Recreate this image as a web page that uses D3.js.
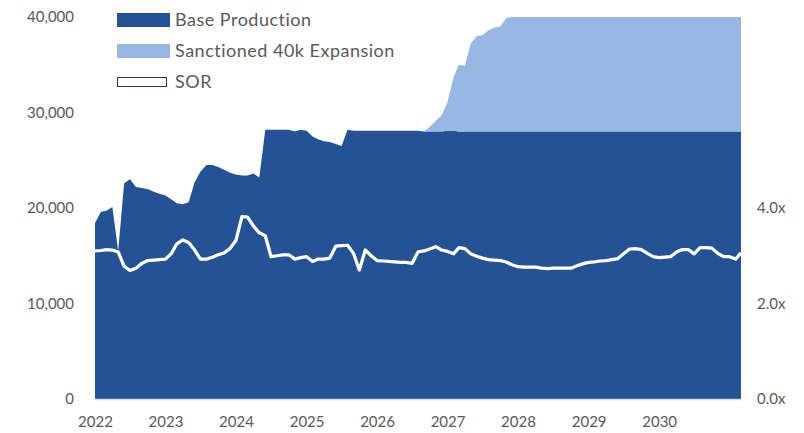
<!DOCTYPE html>
<html>
<head>
<meta charset="utf-8">
<script src="https://cdn.jsdelivr.net/npm/d3@7"></script>
<style>
  body { margin: 0; background: #fff; }
  text { font-family: Lato, "Open Sans", sans-serif; fill: #595959; }
</style>
</head>
<body>
<div id="chart"></div>
<script>
const width = 804;
const height = 433;

// monthly points, Jan 2022 .. Mar 2031
const months = d3.timeMonth.range(new Date(2022, 0, 1), new Date(2031, 3, 1));

const baseProduction = [
  18400, 19600, 19700, 20100, 15500, 22600, 23000, 22200, 22100, 22000, 21700, 21500,
  21300, 20900, 20500, 20400, 20600, 22700, 23800, 24500, 24500, 24300, 24000, 23700,
  23500, 23400, 23400, 23600, 23200, 28200, 28200, 28200, 28200, 28200, 28000, 28200,
  28100, 27500, 27200, 27000, 26900, 26700, 26500, 28200, 28100, 28100, 28100, 28100,
  28100, 28100, 28100, 28100, 28100, 28100, 28100, 28100, 28000, 28000, 28000, 28000,
  28100, 28100, 28000, 28000, 28000, 28000, 28000, 28000, 28000, 28000, 28000, 28000,
  28000, 28000, 28000, 28000, 28000, 28000, 28000, 28000, 28000, 28000, 28000, 28000,
  28000, 28000, 28000, 28000, 28000, 28000, 28000, 28000, 28000, 28000, 28000, 28000,
  28000, 28000, 28000, 28000, 28000, 28000, 28000, 28000, 28000, 28000, 28000, 28000,
  28000, 28000, 28000
];

const sanctionedExpansion = [
  0, 0, 0, 0, 0, 0, 0, 0, 0, 0, 0, 0,
  0, 0, 0, 0, 0, 0, 0, 0, 0, 0, 0, 0,
  0, 0, 0, 0, 0, 0, 0, 0, 0, 0, 0, 0,
  0, 0, 0, 0, 0, 0, 0, 0, 0, 0, 0, 0,
  0, 0, 0, 0, 0, 0, 0, 0, 0, 500, 1100, 1700,
  3000, 5600, 7000, 6900, 9200, 10000, 10100, 10600, 10900, 11000, 11900, 12000,
  12000, 12000, 12000, 12000, 12000, 12000, 12000, 12000, 12000, 12000, 12000, 12000,
  12000, 12000, 12000, 12000, 12000, 12000, 12000, 12000, 12000, 12000, 12000, 12000,
  12000, 12000, 12000, 12000, 12000, 12000, 12000, 12000, 12000, 12000, 12000, 12000,
  12000, 12000, 12000
];

const sor = [
  3.10, 3.11, 3.13, 3.12, 3.08, 2.78, 2.69, 2.74, 2.84, 2.90, 2.91, 2.92,
  2.93, 3.05, 3.25, 3.33, 3.28, 3.12, 2.93, 2.93, 2.97, 3.02, 3.06, 3.15,
  3.32, 3.82, 3.81, 3.62, 3.48, 3.42, 2.98, 3.00, 3.02, 3.02, 2.93, 2.96,
  2.98, 2.88, 2.93, 2.93, 2.95, 3.20, 3.21, 3.22, 3.05, 2.70, 3.12, 3.00,
  2.90, 2.89, 2.88, 2.87, 2.86, 2.86, 2.84, 3.08, 3.10, 3.14, 3.19, 3.12,
  3.09, 3.04, 3.17, 3.15, 3.04, 2.99, 2.95, 2.92, 2.91, 2.90, 2.87, 2.81,
  2.77, 2.76, 2.76, 2.76, 2.74, 2.73, 2.74, 2.74, 2.74, 2.74, 2.79, 2.83,
  2.86, 2.87, 2.89, 2.90, 2.92, 2.94, 3.04, 3.14, 3.15, 3.13, 3.05, 2.98,
  2.96, 2.97, 2.98, 3.08, 3.13, 3.13, 3.04, 3.17, 3.17, 3.16, 3.05, 2.98,
  2.98, 2.93, 3.06
];

const productionTicks = [0, 10000, 20000, 30000, 40000];
const sorTicks = [0, 2, 4];
const yearLabels = [2022, 2023, 2024, 2025, 2026, 2027, 2028, 2029, 2030];

const seriesNames = ["Base Production", "Sanctioned 40k Expansion", "SOR"];
const colors = { base: "#245294", expansion: "#98B7E3" };

const margin = { left: 95, right: 63, top: 17, bottom: 34 };

const svg = d3.select("#chart").append("svg")
  .attr("width", width)
  .attr("height", height);

const x = d3.scaleTime()
  .domain([months[0], months[months.length - 1]])
  .range([margin.left, width - margin.right]);
const y = d3.scaleLinear()
  .domain([0, 40000])
  .range([height - margin.bottom, margin.top]);
const ySor = d3.scaleLinear()
  .domain([0, 8])
  .range([height - margin.bottom, margin.top]);

const table = months.map((m, i) => ({
  date: m,
  base: baseProduction[i],
  expansion: sanctionedExpansion[i]
}));
const stacked = d3.stack().keys(["base", "expansion"])(table);

const area = d3.area()
  .x(d => x(d.data.date))
  .y0(d => y(d[0]))
  .y1(d => y(d[1]));

svg.append("g").classed("areas", true)
  .selectAll("path")
  .data(stacked)
  .enter().append("path")
  .attr("d", area)
  .attr("fill", d => colors[d.key]);

const sorLine = d3.line()
  .x((d, i) => x(months[i]))
  .y(d => ySor(d));

svg.append("path")
  .datum(sor)
  .attr("d", sorLine)
  .attr("fill", "none")
  .attr("stroke", "#fff")
  .attr("stroke-width", 3.25)
  .attr("stroke-linejoin", "round");

// axes
const leftAxis = svg.append("g")
  .attr("transform", `translate(${margin.left},0)`)
  .call(d3.axisLeft(y).tickValues(productionTicks).tickFormat(d3.format(",")).tickSize(0).tickPadding(21));
const rightAxis = svg.append("g")
  .attr("transform", `translate(${width - margin.right},0)`)
  .call(d3.axisRight(ySor).tickValues(sorTicks).tickFormat(d => d3.format(".1f")(d) + "x").tickSize(0).tickPadding(16));
const bottomAxis = svg.append("g")
  .attr("transform", `translate(0,${height - margin.bottom})`)
  .call(d3.axisBottom(x)
    .tickValues(yearLabels.map(yr => new Date(yr, 0, 1)))
    .tickFormat(d3.timeFormat("%Y"))
    .tickSize(0).tickPadding(17));

leftAxis.select(".domain").remove();
rightAxis.select(".domain").remove();
bottomAxis.select(".domain").attr("stroke", "#D9D9D9").attr("stroke-width", 1.5);
svg.selectAll(".tick text").style("font-size", "15px").attr("fill", "#595959");

// legend
const legend = svg.append("g").classed("legend", true)
  .attr("transform", "translate(117,20)");
const rows = legend.selectAll("g")
  .data(seriesNames)
  .enter().append("g")
  .attr("transform", (d, i) => `translate(0,${i * 31})`);
rows.append("rect")
  .attr("x", (d, i) => i === 2 ? 0.5 : 0)
  .attr("y", (d, i) => i === 2 ? -4.5 : -7)
  .attr("width", (d, i) => i === 2 ? 49 : 53)
  .attr("height", (d, i) => i === 2 ? 9 : 14)
  .attr("fill", (d, i) => i === 0 ? colors.base : i === 1 ? colors.expansion : "#fff")
  .attr("stroke", (d, i) => i === 2 ? "#1F3864" : "none")
  .attr("stroke-width", 1);
rows.append("text")
  .attr("x", 58)
  .attr("dy", "0.36em")
  .style("font-size", "18px")
  .style("letter-spacing", "0.5px")
  .text(d => d);
</script>
</body>
</html>
